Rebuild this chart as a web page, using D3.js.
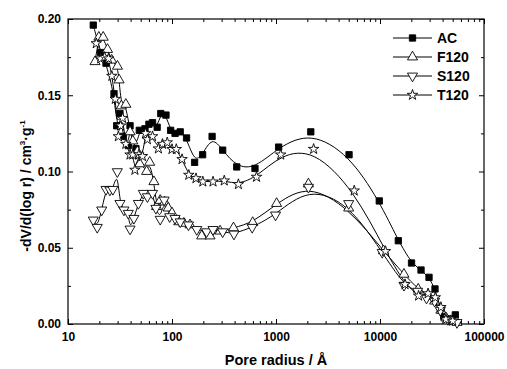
<!DOCTYPE html>
<html>
<head>
<meta charset="utf-8">
<script src="https://cdn.jsdelivr.net/npm/d3@7/dist/d3.min.js"></script>
<style>
  body { margin: 0; background: #fff; }
  text { font-family: Arial, "Liberation Sans", sans-serif; font-weight: bold; }
</style>
</head>
<body>
<svg id="chart" width="507" height="369"></svg>
<script>
// pore radius (Å) and -dV/d(log r) values
var acR = [17.5, 20.6, 23.2, 27.7, 29.4, 31.6, 34, 38, 39.5, 45, 48.5, 55, 60, 65, 72, 78, 87.5, 97, 107, 120, 138, 165, 197, 243, 307, 419, 628, 1060, 2160, 5040, 9840, 15000, 20100, 24800, 29600, 33800, 38600, 41000, 53000];
var acV = [0.196, 0.178, 0.171, 0.151, 0.130, 0.138, 0.123, 0.117, 0.130, 0.115, 0.127, 0.128, 0.131, 0.132, 0.129, 0.138, 0.137, 0.127, 0.125, 0.126, 0.122, 0.106, 0.111, 0.123, 0.114, 0.103, 0.102, 0.116, 0.126, 0.111, 0.0807, 0.0546, 0.040, 0.0354, 0.0306, 0.023, 0.009, 0.005, 0.006];

var f120R = [18.2, 19.8, 21.8, 24, 26.3, 29.9, 31, 32.6, 36, 39.5, 42, 46.4, 49, 57, 61, 67, 71, 77, 85, 92, 100, 116, 130, 149, 193, 232, 290, 390, 597, 1014, 2050, 5000, 10800, 17000, 23300, 29000, 33500, 38500, 43000, 50000, 55000];
var f120V = [0.172, 0.188, 0.188, 0.180, 0.173, 0.169, 0.160, 0.143, 0.144, 0.126, 0.120, 0.113, 0.105, 0.100, 0.106, 0.0933, 0.077, 0.081, 0.080, 0.076, 0.0728, 0.067, 0.066, 0.065, 0.0577, 0.0577, 0.0609, 0.063, 0.0665, 0.079, 0.0918, 0.076, 0.048, 0.0326, 0.0228, 0.019, 0.015, 0.009, 0.004, 0.002, 0.001];

var s120R = [17.5, 19.1, 21.1, 23.2, 25.3, 27, 29.8, 31.6, 34.5, 38, 39.5, 43, 47.5, 53, 58, 65, 70, 77, 84, 95, 107, 120, 144, 173, 215, 248, 307, 394, 590, 990, 2050, 5000, 10500, 17000, 23000, 28000, 33500, 38000, 45000, 55000];
var s120V = [0.0682, 0.0634, 0.0748, 0.0883, 0.0879, 0.0883, 0.0999, 0.0791, 0.0748, 0.0726, 0.0623, 0.0693, 0.0791, 0.0857, 0.0835, 0.0857, 0.0759, 0.0687, 0.0813, 0.0704, 0.0693, 0.067, 0.065, 0.062, 0.0605, 0.062, 0.0605, 0.059, 0.0634, 0.0715, 0.0897, 0.079, 0.047, 0.0254, 0.0215, 0.017, 0.015, 0.009, 0.003, 0.001];

var t120R = [18.7, 20.6, 22.5, 24.5, 26.4, 28.5, 30.5, 32, 33.5, 36, 39.5, 42, 44, 48, 52, 55.7, 58, 65, 74, 81, 90, 100, 110, 125, 145, 170, 198, 248, 318, 435, 650, 1110, 2300, 5650, 11300, 17400, 23500, 29000, 34000, 38500, 43000, 50000];
var t120V = [0.184, 0.174, 0.175, 0.174, 0.1626, 0.1475, 0.123, 0.130, 0.135, 0.118, 0.111, 0.111, 0.101, 0.111, 0.110, 0.125, 0.121, 0.123, 0.115, 0.118, 0.119, 0.1146, 0.1146, 0.108, 0.0977, 0.0955, 0.0933, 0.0933, 0.094, 0.0916, 0.0964, 0.111, 0.1147, 0.0874, 0.0477, 0.026, 0.0185, 0.020, 0.0174, 0.011, 0.003, 0.002];

var seriesNames = ["AC", "F120", "S120", "T120"];
var xTickValues = [10, 100, 1000, 10000, 100000];
var yTickValues = [0, 0.05, 0.10, 0.15, 0.20];

var margin = { top: 19, right: 23, bottom: 45, left: 68 };
var width = 507 - margin.left - margin.right;
var height = 369 - margin.top - margin.bottom;

var svg = d3.select("#chart");
var g = svg.append("g").attr("transform", "translate(" + margin.left + "," + margin.top + ")");

var x = d3.scaleLog().domain([10, 100000]).range([0, width]);
var y = d3.scaleLinear().domain([0, 0.20]).range([height, 0]);

// minor ticks
var xMinor = [];
for (var dec = 10; dec < 100000; dec *= 10) {
    for (var k = 2; k <= 9; k++) xMinor.push(dec * k);
}
var yMinor = [0.025, 0.075, 0.125, 0.175];

var axisStyle = function(sel) {
    sel.select(".domain").remove();
    sel.selectAll("line").attr("stroke", "#000").attr("stroke-width", 1);
    sel.selectAll("text").attr("fill", "#000").style("font-size", "12px");
};

g.append("g").attr("transform", "translate(0," + height + ")")
    .call(d3.axisBottom(x).tickValues(xTickValues).tickFormat(d3.format("d")).tickSize(-5).tickPadding(8))
    .call(axisStyle);
g.append("g").attr("transform", "translate(0," + height + ")")
    .call(d3.axisBottom(x).tickValues(xMinor).tickFormat("").tickSize(-3))
    .call(axisStyle);
g.append("g")
    .call(d3.axisTop(x).tickValues(xTickValues).tickFormat("").tickSize(-5))
    .call(axisStyle);
g.append("g")
    .call(d3.axisTop(x).tickValues(xMinor).tickFormat("").tickSize(-3))
    .call(axisStyle);

g.append("g")
    .call(d3.axisLeft(y).tickValues(yTickValues).tickFormat(d3.format(".2f")).tickSize(-5).tickPadding(7))
    .call(axisStyle);
g.append("g")
    .call(d3.axisLeft(y).tickValues(yMinor).tickFormat("").tickSize(-3))
    .call(axisStyle);
g.append("g").attr("transform", "translate(" + width + ",0)")
    .call(d3.axisRight(y).tickValues(yTickValues).tickFormat("").tickSize(-5))
    .call(axisStyle);
g.append("g").attr("transform", "translate(" + width + ",0)")
    .call(d3.axisRight(y).tickValues(yMinor).tickFormat("").tickSize(-3))
    .call(axisStyle);

g.append("rect")
    .attr("width", width).attr("height", height)
    .attr("fill", "none").attr("stroke", "#000").attr("stroke-width", 1.2);

// series
var series = [
    { name: seriesNames[0], r: acR, v: acV, sym: d3.symbolSquare, size: 40, fill: "#000", rot: 0 },
    { name: seriesNames[1], r: f120R, v: f120V, sym: d3.symbolTriangle, size: 44, fill: "#fff", rot: 0 },
    { name: seriesNames[2], r: s120R, v: s120V, sym: d3.symbolTriangle, size: 44, fill: "#fff", rot: 180 },
    { name: seriesNames[3], r: t120R, v: t120V, sym: d3.symbolStar, size: 34, fill: "#fff", rot: 0 }
];

var line = d3.line()
    .x(function(d) { return x(d[0]); })
    .y(function(d) { return y(d[1]); })
    .curve(d3.curveBasis);

var plot = g.append("g");

series.forEach(function(s) {
    var pts = s.r.map(function(r, i) { return [r, s.v[i]]; });
    plot.append("path")
        .datum(pts)
        .attr("d", line)
        .attr("fill", "none")
        .attr("stroke", "#000")
        .attr("stroke-width", 1);
});

series.forEach(function(s) {
    var pts = s.r.map(function(r, i) { return [r, s.v[i]]; });
    plot.selectAll(null)
        .data(pts)
      .enter()
        .append("path")
        .attr("d", d3.symbol().type(s.sym).size(s.size))
        .attr("transform", function(d) {
            return "translate(" + x(d[0]) + "," + y(d[1]) + ") rotate(" + s.rot + ")";
        })
        .attr("fill", s.fill)
        .attr("stroke", "#000")
        .attr("stroke-width", 0.9);
});

// legend
var legend = g.append("g").attr("transform", "translate(325,19)");
series.forEach(function(s, i) {
    var row = legend.append("g").attr("transform", "translate(0," + (i * 19) + ")");
    row.append("line")
        .attr("x1", 0).attr("x2", 39).attr("y1", 0).attr("y2", 0)
        .attr("stroke", "#000").attr("stroke-width", 1);
    row.append("path")
        .attr("d", d3.symbol().type(s.sym).size(s.size))
        .attr("transform", "translate(19.5,0) rotate(" + s.rot + ")")
        .attr("fill", s.fill)
        .attr("stroke", "#000")
        .attr("stroke-width", 0.9);
    row.append("text")
        .attr("x", 44).attr("y", 5)
        .style("font-size", "14px")
        .text(s.name);
});

// axis titles
svg.append("text")
    .attr("x", margin.left + width / 2)
    .attr("y", 365)
    .attr("text-anchor", "middle")
    .style("font-size", "14.5px")
    .text("Pore radius / Å");

var yTitle = svg.append("text")
    .attr("transform", "translate(31,186) rotate(-90)")
    .attr("text-anchor", "middle")
    .style("font-size", "14px");
yTitle.append("tspan").text("-dV/d(log r) / cm");
yTitle.append("tspan").attr("dy", -6).style("font-size", "8px").text("3");
yTitle.append("tspan").attr("dy", 6).text("·g");
yTitle.append("tspan").attr("dy", -6).style("font-size", "8px").text("-1");
</script>
</body>
</html>
